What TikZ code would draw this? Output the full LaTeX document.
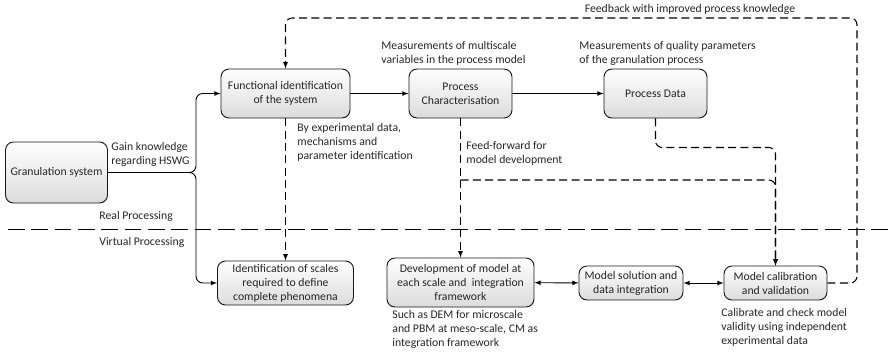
\documentclass[tikz,border=0pt]{standalone}
\usepackage{fontspec}
\setmainfont{Carlito}
\usetikzlibrary{shapes,arrows,positioning,calc}
\tikzset{
  procbox/.style={shape=rectangle,draw=black!90,line width=0.8pt,rounded corners=2.4mm,
    top color=white,bottom color=black!14,align=center,inner sep=2pt,
    font=\fontsize{10}{12}\selectfont,text=black!85},
  flow/.style={draw=black,line width=0.8pt,-latex},
  dflow/.style={flow,line width=0.9pt,dash pattern=on 2.4mm off 1.3mm},
  note/.style={align=left,inner sep=1pt,font=\fontsize{10}{12}\selectfont,text=black!85}
}
\begin{document}
\begin{tikzpicture}[x=0.3mm,y=-0.3mm]
  \useasboundingbox (0,0) rectangle (890,351);
  % real processing
  \path (56.5,172.5) node [procbox,minimum width=30.6mm,minimum height=18.3mm] (gran) {Granulation system}
  (285.5,93.5) node [procbox,minimum width=38.7mm,minimum height=14.7mm] (func) {Functional identification\\of the system}
  (460.5,93.5) node [procbox,minimum width=30.9mm,minimum height=14.7mm] (char) {Process\\Characterisation}
  (655.5,93.5) node [procbox,minimum width=30.9mm,minimum height=14.7mm] (data) {Process Data};
  % virtual processing
  \path (285.5,283) node [procbox,minimum width=40.8mm,minimum height=13.2mm] (scales) {Identification of scales\\required to define\\complete phenomena}
  (460.5,282.5) node [procbox,minimum width=44.1mm,minimum height=14.7mm] (devel) {Development of model at\\each scale and\ \ integration\\framework}
  (631,283) node [procbox,minimum width=31.2mm,minimum height=10.2mm] (solution) {Model solution and\\data integration}
  (775.5,283) node [procbox,minimum width=30.9mm,minimum height=10.2mm] (calib) {Model calibration\\and validation};

  % divider
  \draw [black,line width=0.8pt,dash pattern=on 5mm off 2mm] (8,229) coordinate (divl) -- (890,229) coordinate (divr);
  \node [note,anchor=south west] (real) at (98,223) {Real Processing};
  \node [note,anchor=north west] (virtual) at (98,236) {Virtual Processing};

  % solid connectors
  \coordinate (split) at (196,172.5);
  \draw [flow,rounded corners=2mm] (gran.east) -- (split) |- (func.west);
  \draw [flow,rounded corners=2mm] (gran.east) -- (split) |- (scales.west);
  \node [note,anchor=south west] (gain) at (110,168) {Gain knowledge\\regarding HSWG};
  \draw [flow] (func) -- (char);
  \draw [flow] (char) -- (data);
  \draw [flow,latex-latex] (devel) -- (solution);
  \draw [flow,latex-latex] (solution) -- (calib);

  % dashed connectors
  \draw [dflow] (func.south) -- (func.south |- scales.north);
  \node [note,anchor=north west] (byexp) at (296,122) {By experimental data,\\mechanisms and\\parameter identification};
  \draw [dflow] (char.south) -- (char.south |- devel.north);
  \node [note,anchor=north west] (ffwd) at (465,140) {Feed-forward for\\model development};
  \coordinate (ff) at (460.5,180);
  \draw [dflow,rounded corners=2mm] (ff) -| (calib.north);
  \draw [dflow,rounded corners=2mm] (data.south) -- ++(0,29) -| (calib.north);
  \draw [dflow,rounded corners=2mm] (calib.east) -| (857,18) -| (func.north);
  \node [note,anchor=south] (fb) at (690,16) {Feedback with improved process knowledge};

  % notes on boxes
  \node [note,anchor=south west] (multi) at (380,67) {Measurements of multiscale\\variables in the process model};
  \node [note,anchor=south west] (qual) at (578,67) {Measurements of quality parameters\\of the granulation process};
  \node [note,anchor=north west] (dem) at (391,309) {Such as DEM for microscale\\and PBM at meso-scale, CM as\\integration framework};
  \node [note,anchor=north west] (check) at (720,307) {Calibrate and check model\\validity using independent\\experimental data};
\end{tikzpicture}
\end{document}
